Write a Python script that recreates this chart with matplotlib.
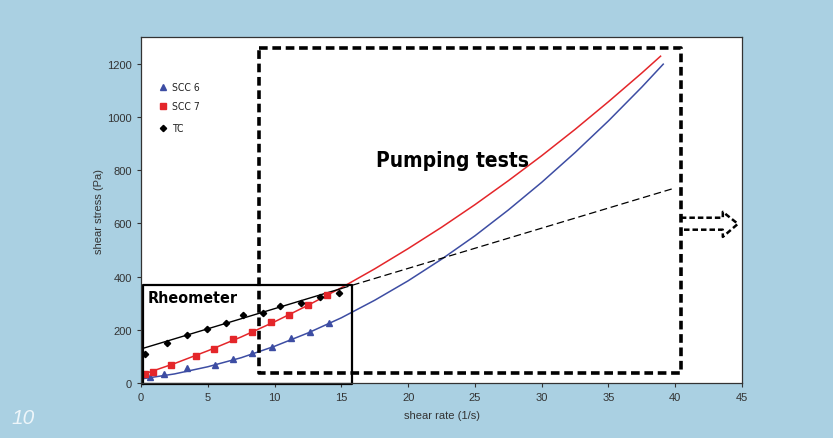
import numpy as np
import matplotlib.pyplot as plt

plt.rcParams['font.family'] = ['Liberation Sans', 'DejaVu Sans']

# Mõõdetud punktid (reomeeter)
scc6_x = [0.67, 1.74, 3.47, 5.54, 6.9, 8.33, 9.8, 11.2, 12.65, 14.07]
scc6_y = [24, 34, 55, 69, 90, 112, 134, 168, 193, 224]
scc7_x = [0.3, 0.88, 2.25, 4.12, 5.46, 6.9, 8.33, 9.7, 11.1, 12.5, 13.9]
scc7_y = [34, 42, 69, 103, 128, 165, 191, 228, 256, 292, 331]
tc_x = [0.3, 1.92, 3.47, 4.96, 6.34, 7.61, 9.15, 10.4, 11.95, 13.4, 14.8]
tc_y = [109, 149, 179, 202, 225, 255, 262, 290, 300, 322, 337]

# Sobitatud kõverad (loetud graafikult)
curve_x = [0, 2.5, 5, 7.5, 10, 12.5, 15, 17.5, 20, 22.5, 25, 27.5, 30, 32.5, 35, 37.5]
scc7_fit = [30, 73, 121, 173, 230, 292, 358, 429, 505, 585, 670, 760, 854, 953, 1057, 1165]
scc6_fit = [15, 34, 61, 95, 138, 188, 245, 311, 384, 465, 553, 650, 754, 866, 985, 1112]
scc7_end = (38.9, 1228)
scc6_end = (39.1, 1198)
tc_line_x = [0, 15]
tc_line_y = [128, 355]
tc_ext_x = [15, 40]
tc_ext_y = [355, 733]

bg = '#aad0e2'
red = '#e4262a'
blue = '#3d4da3'

fig = plt.figure(figsize=(8.33, 4.39), dpi=100, facecolor=bg)
ax = fig.add_axes([0.1693, 0.1253, 0.7215, 0.7881])
ax.set_facecolor('white')

# Kõverad
ax.plot(curve_x + [scc7_end[0]], scc7_fit + [scc7_end[1]], '-', color=red, lw=1.1)
ax.plot(curve_x + [scc6_end[0]], scc6_fit + [scc6_end[1]], '-', color=blue, lw=1.1)
ax.plot(tc_line_x, tc_line_y, '-', color='black', lw=1.0)
ax.plot(tc_ext_x, tc_ext_y, '--', color='black', lw=0.9, dashes=(6, 3))

# Punktid
ax.plot(scc6_x, scc6_y, '^', color=blue, ms=4.5, ls='none')
ax.plot(scc7_x, scc7_y, 's', color=red, ms=5, ls='none')
ax.plot(tc_x, tc_y, 'D', color='black', ms=3.2, ls='none')

# Legend käsitsi
ax.plot([1.65], [1114], '^', color=blue, ms=4.5)
ax.plot([1.65], [1042], 's', color=red, ms=5)
ax.plot([1.65], [959], 'D', color='black', ms=3.2)
for yy, t in zip([1114, 1042, 959], ['SCC 6', 'SCC 7', 'TC']):
    ax.text(2.3, yy, t, fontsize=7.5, va='center', ha='left', color='#222222',
            family='DejaVu Sans', fontstretch='condensed')

# Reomeetri kast
ax.plot([0.12, 15.8, 15.8, 0.12, 0.12], [-4, -4, 369, 369, -4], '-', color='black',
        lw=1.6, clip_on=False)
ax.text(0.5, 320, 'Rheometer', fontsize=11.5, fontweight='bold', va='center', ha='left',
        family='DejaVu Sans', fontstretch='condensed')

# Pumpamiskatsete kast
ax.plot([8.83, 40.42, 40.42, 8.83, 8.83], [1260, 1260, 37.6, 37.6, 1260], color='black',
        lw=2.6, dashes=(2.4, 1.3), clip_on=False)
ax.text(23.3, 839, 'Pumping tests', fontsize=15, fontweight='bold', va='center', ha='center',
        family='DejaVu Sans', fontstretch='condensed')

# Nool
ax.plot([40.42, 43.56, 43.56, 44.69, 43.56, 43.56, 40.42],
        [621, 621, 643, 598, 549, 576, 576], color='black', lw=1.8, dashes=(2.2, 1.2),
        clip_on=False)

ax.set_xlim(0, 45)
ax.set_ylim(0, 1300)
ax.set_xticks(np.arange(0, 46, 5))
ax.set_yticks(np.arange(0, 1201, 200))
ax.tick_params(labelsize=8, length=3, width=0.8, colors='#333333', direction='out')
for s in ax.spines.values():
    s.set_color('#333333')
    s.set_linewidth(0.9)
ax.set_xlabel('shear rate (1/s)', fontsize=8, color='#333333', labelpad=6)
ax.set_ylabel('shear stress (Pa)', fontsize=8, color='#333333', labelpad=2)

fig.text(0.014, 0.025, '10', fontsize=15, style='italic', color='#eef6fa', ha='left', va='bottom')

plt.savefig('out.png', dpi=100, facecolor=bg)
plt.close()
